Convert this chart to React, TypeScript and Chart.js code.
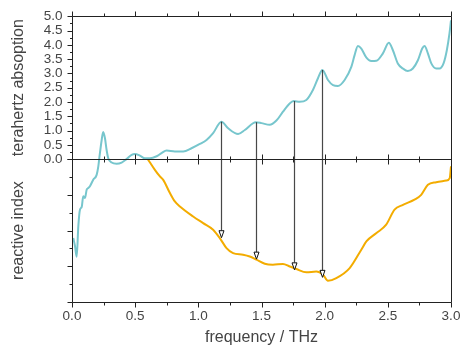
import React, { useEffect, useRef } from 'react';
import { Chart, registerables } from 'chart.js';

Chart.register(...registerables);

// Absorption (top panel), frequency in THz
const absFreq = [0.010,0.024,0.037,0.050,0.063,0.077,0.089,0.103,0.116,0.129,0.142,0.168,0.195,0.208,0.216,0.235,0.247,0.261,0.274,0.287,0.314,0.353,0.393,0.432,0.472,0.498,0.538,0.577,0.617,0.670,0.709,0.749,0.814,0.880,0.946,1.012,1.065,1.117,1.183,1.236,1.315,1.368,1.455,1.500,1.565,1.618,1.670,1.723,1.755,1.802,1.855,1.907,1.947,1.982,2.026,2.066,2.105,2.158,2.211,2.237,2.263,2.290,2.329,2.369,2.409,2.461,2.508,2.540,2.579,2.619,2.658,2.698,2.738,2.772,2.791,2.817,2.844,2.883,2.909,2.941,2.967,2.988,3.000];
const absValue = [-2.76,-3.05,-3.42,-2.35,-1.77,-1.67,-1.30,-1.36,-1.07,-1.01,-0.95,-0.72,-0.55,-0.26,0.03,0.67,0.95,0.73,0.32,0.03,-0.12,-0.16,-0.12,0.0,0.15,0.18,0.12,0.03,0.03,0.10,0.21,0.30,0.27,0.27,0.38,0.53,0.67,0.91,1.31,1.08,0.88,1.02,1.29,1.26,1.20,1.35,1.66,1.95,2.03,2.01,2.07,2.42,2.83,3.12,2.77,2.59,2.56,2.77,3.23,3.64,3.96,3.87,3.56,3.43,3.44,3.70,4.07,3.81,3.35,3.17,3.08,3.17,3.46,3.87,3.96,3.70,3.35,3.17,3.17,3.35,3.81,4.40,4.86];

// Refractive index (bottom panel), arbitrary units 0..8
const idxFreq = [0.600,0.656,0.696,0.722,0.775,0.814,0.854,0.959,1.038,1.117,1.170,1.223,1.275,1.354,1.407,1.460,1.526,1.590,1.670,1.723,1.776,1.855,1.934,1.987,2.026,2.092,2.198,2.290,2.330,2.410,2.487,2.553,2.620,2.711,2.764,2.817,2.883,2.962,2.990,3.000];
const idxValue = [8.0,7.4,7.03,6.84,6.10,5.63,5.35,4.79,4.42,4.05,3.58,3.02,2.74,2.65,2.55,2.37,2.14,2.09,2.13,1.99,1.85,1.66,1.71,1.53,1.19,1.34,1.90,2.93,3.39,3.86,4.33,5.17,5.44,5.73,6.0,6.56,6.71,6.80,6.94,7.6];

// Arrows from absorption peaks down to index curve
const arrowFreq = [1.18, 1.455, 1.755, 1.98];
const arrowTop = [1.31, 1.29, 2.03, 3.12];
const arrowBottom = [3.6, 2.4, 1.8, 1.38];

const TEAL = '#77C6CD';
const ORANGE = '#F3AC00';
const TEXT = '#444444';
const FRAME = '#222222';
const FONT = "'Liberation Sans', Arial, Helvetica, sans-serif";

export default function App() {
  const ref = useRef<HTMLCanvasElement>(null);

  useEffect(() => {
    if (!ref.current) return;
    const framePlugin = {
      id: 'frame',
      afterDatasetsDraw(chart: any) {
        const ctx = chart.ctx;
        const xs = chart.scales.x;
        const yt = chart.scales.yTop;
        const yb = chart.scales.yBot;
        const { left, right, top, bottom } = chart.chartArea;
        const mid = yt.bottom;
        const r = (v: number) => Math.round(v) + 0.5;
        ctx.save();
        ctx.strokeStyle = FRAME;
        ctx.lineWidth = 1;
        ctx.beginPath();
        ctx.rect(r(left), r(top), Math.round(right) - Math.round(left), Math.round(mid) - Math.round(top));
        ctx.rect(r(left), r(mid), Math.round(right) - Math.round(left), Math.round(bottom) - Math.round(mid));
        for (let i = 0; i <= 12; i++) {
          const v = i * 0.25;
          const px = r(xs.getPixelForValue(v));
          const len = i % 2 === 0 ? 5 : 3;
          ctx.moveTo(px, r(top)); ctx.lineTo(px, r(top) - len);
          ctx.moveTo(px, r(mid) - len); ctx.lineTo(px, r(mid) + len);
          ctx.moveTo(px, r(bottom)); ctx.lineTo(px, r(bottom) + len);
        }
        for (let i = 0; i <= 20; i++) {
          const v = i * 0.25;
          const py = r(yt.getPixelForValue(v));
          const len = i % 2 === 0 ? 5 : 2.5;
          ctx.moveTo(r(left), py); ctx.lineTo(r(left) - len, py);
        }
        for (let i = 0; i <= 8; i++) {
          const py = r(yb.getPixelForValue(i));
          const len = i % 2 === 0 ? 5 : 3;
          ctx.moveTo(r(left), py); ctx.lineTo(r(left) - len, py);
        }
        ctx.stroke();

        for (let i = 0; i < arrowFreq.length; i++) {
          const px = r(xs.getPixelForValue(arrowFreq[i]));
          const y1 = yt.getPixelForValue(arrowTop[i]);
          const y2 = yb.getPixelForValue(arrowBottom[i]);
          const head = 7;
          ctx.strokeStyle = 'rgba(40,40,40,0.85)';
          ctx.lineWidth = 1.2;
          ctx.beginPath();
          ctx.moveTo(px, y1);
          ctx.lineTo(px, y2 - head);
          ctx.stroke();
          ctx.beginPath();
          ctx.moveTo(px - 2.5, y2 - head);
          ctx.lineTo(px + 2.5, y2 - head);
          ctx.lineTo(px, y2);
          ctx.closePath();
          ctx.fillStyle = '#ffffff';
          ctx.fill();
          ctx.strokeStyle = '#111111';
          ctx.lineWidth = 1;
          ctx.stroke();
        }
        ctx.restore();
      },
    };

    const chart = new Chart(ref.current, {
      type: 'line',
      data: {
        datasets: [
          {
            label: 'absorption',
            data: absFreq.map((f, i) => ({ x: f, y: absValue[i] })),
            yAxisID: 'yTop',
            borderColor: TEAL,
            borderWidth: 2,
            pointRadius: 0,
            cubicInterpolationMode: 'monotone',
            fill: false,
            clip: false,
          },
          {
            label: 'index',
            data: idxFreq.map((f, i) => ({ x: f, y: idxValue[i] })),
            yAxisID: 'yBot',
            borderColor: ORANGE,
            borderWidth: 2,
            pointRadius: 0,
            cubicInterpolationMode: 'monotone',
            fill: false,
          },
        ],
      },
      options: {
        responsive: false,
        animation: false,
        events: [],
        layout: { padding: { left: 0, right: 10, top: 16, bottom: 0 } },
        plugins: { legend: { display: false }, tooltip: { enabled: false } },
        scales: {
          x: {
            type: 'linear',
            position: 'bottom',
            min: 0,
            max: 3,
            grid: { display: false, drawTicks: false },
            border: { display: false },
            ticks: {
              stepSize: 0.5,
              autoSkip: false,
              maxRotation: 0,
              padding: 6,
              color: TEXT,
              font: { family: FONT, size: 13.5 },
              callback: (v: any) => Number(v).toFixed(1),
            },
            title: {
              display: true,
              text: 'frequency / THz',
              color: TEXT,
              font: { family: FONT, size: 16 },
              padding: { top: 0, bottom: 0 },
            },
            afterFit: (s: any) => { s.height = 45; s.paddingLeft = 0; s.paddingRight = 0; },
          },
          yBot: {
            type: 'linear',
            position: 'left',
            stack: 'panels',
            stackWeight: 1,
            min: 0,
            max: 8,
            grid: { display: false, drawTicks: false },
            border: { display: false },
            ticks: { display: false, stepSize: 1 },
            title: {
              display: true,
              text: 'reactive index',
              color: TEXT,
              font: { family: FONT, size: 16 },
              padding: { top: 9, bottom: 0 },
            },
            afterFit: (s: any) => { s.width = 72; },
          },
          yTop: {
            type: 'linear',
            position: 'left',
            stack: 'panels',
            stackWeight: 1,
            min: 0,
            max: 5,
            grid: { display: false, drawTicks: false },
            border: { display: false },
            ticks: {
              stepSize: 0.5,
              autoSkip: false,
              padding: 9.5,
              color: TEXT,
              font: { family: FONT, size: 13.5, lineHeight: 1 },
              callback: (v: any) => Number(v).toFixed(1),
            },
            title: {
              display: true,
              text: 'terahertz absoption',
              color: TEXT,
              font: { family: FONT, size: 16 },
              padding: { top: 9, bottom: 0 },
            },
            afterFit: (s: any) => { s.width = 72; },
          },
        },
      } as any,
      plugins: [framePlugin],
    });
    return () => chart.destroy();
  }, []);

  return (
    <div style={{ position: 'fixed', left: 0, top: 0, width: 461, height: 347, background: '#fff' }}>
      <canvas ref={ref} width={461} height={347} style={{ display: 'block', width: 461, height: 347 }} />
    </div>
  );
}
